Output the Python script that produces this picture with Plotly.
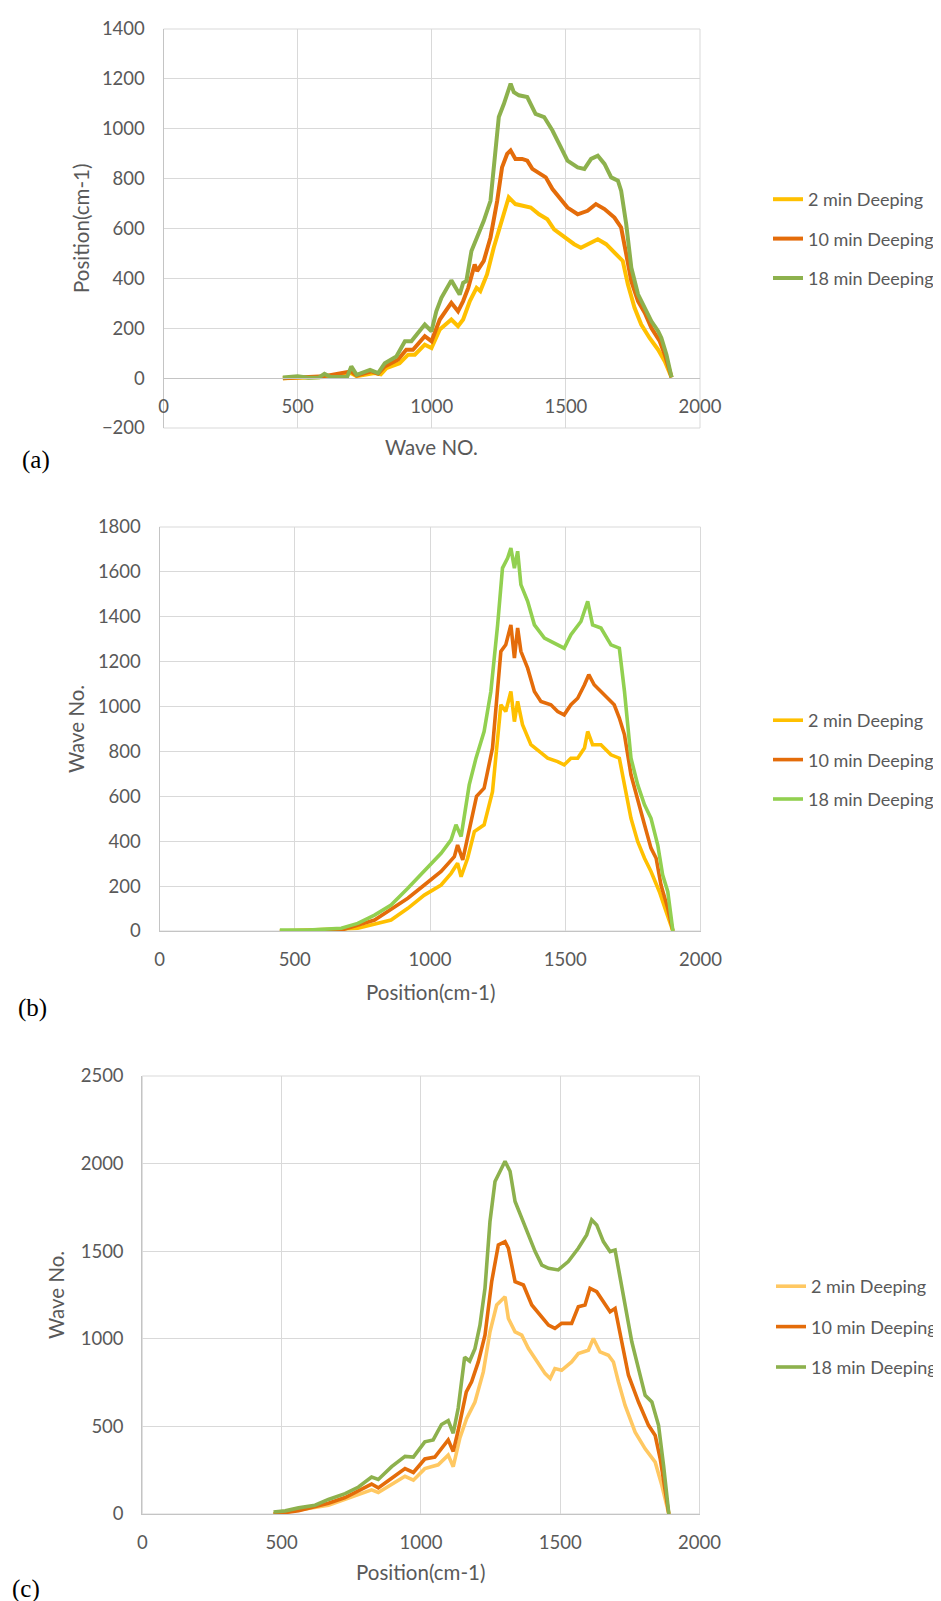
import plotly.graph_objects as go

# ---------------- data ----------------
SERIES = ["2 min Deeping", "10 min Deeping", "18 min Deeping"]

# Panel (a)
A_X_2 = [445, 500, 600, 700, 720, 787, 810, 831, 880, 912, 937, 974, 999, 1030, 1073, 1098, 1117, 1142, 1167, 1181, 1206, 1231, 1256, 1275, 1287, 1312, 1344, 1369, 1400, 1431, 1456, 1494, 1531, 1556, 1594, 1619, 1650, 1681, 1712, 1731, 1756, 1781, 1812, 1844, 1869, 1894]
A_Y_2 = [0, 2, 5, 20, 8, 20, 15, 40, 60, 94, 94, 134, 121, 195, 235, 208, 235, 309, 362, 349, 416, 523, 617, 684, 725, 698, 691, 684, 657, 637, 597, 564, 537, 523, 544, 557, 537, 503, 470, 376, 282, 215, 161, 114, 67, 3]
A_X_10 = [445, 500, 600, 700, 720, 775, 800, 825, 874, 905, 930, 974, 999, 1030, 1073, 1098, 1117, 1136, 1160, 1169, 1194, 1219, 1244, 1262, 1281, 1294, 1312, 1337, 1356, 1375, 1406, 1425, 1450, 1481, 1506, 1544, 1581, 1612, 1644, 1681, 1706, 1725, 1744, 1769, 1794, 1819, 1850, 1869, 1894]
A_Y_10 = [0, 3, 8, 27, 10, 27, 18, 47, 74, 114, 114, 168, 148, 235, 302, 268, 309, 362, 456, 429, 470, 564, 711, 845, 899, 913, 879, 879, 872, 839, 819, 805, 758, 718, 684, 657, 671, 698, 678, 644, 604, 497, 389, 309, 262, 201, 148, 94, 3]
A_X_18 = [445, 500, 540, 580, 600, 620, 665, 685, 700, 720, 770, 800, 825, 868, 900, 924, 974, 999, 1017, 1036, 1073, 1104, 1117, 1129, 1148, 1169, 1194, 1219, 1237, 1250, 1269, 1281, 1294, 1306, 1325, 1356, 1387, 1419, 1450, 1481, 1506, 1544, 1569, 1594, 1619, 1644, 1669, 1694, 1706, 1725, 1744, 1769, 1794, 1819, 1844, 1856, 1875, 1894]
A_Y_18 = [3, 7, 2, 3, 17, 6, 5, 6, 47, 13, 33, 20, 60, 87, 148, 148, 215, 188, 268, 322, 392, 335, 382, 389, 510, 564, 631, 711, 899, 1047, 1100, 1141, 1181, 1147, 1134, 1127, 1060, 1047, 993, 926, 872, 845, 839, 879, 892, 859, 805, 792, 752, 617, 443, 336, 282, 228, 188, 161, 94, 3]

# Panel (b)
B_X_2 = [445, 733, 856, 918, 979, 1041, 1078, 1102, 1115, 1139, 1164, 1200, 1231, 1262, 1280, 1299, 1312, 1324, 1342, 1373, 1404, 1435, 1472, 1496, 1521, 1546, 1571, 1583, 1601, 1632, 1669, 1700, 1719, 1743, 1768, 1793, 1817, 1848, 1873, 1898]
B_Y_2 = [0, 12, 49, 101, 160, 205, 257, 302, 242, 324, 443, 473, 621, 1008, 978, 1067, 933, 1023, 919, 830, 800, 770, 755, 740, 770, 770, 815, 889, 830, 830, 785, 770, 651, 502, 398, 324, 265, 175, 86, 0]
B_X_10 = [445, 672, 795, 918, 979, 1041, 1090, 1102, 1121, 1145, 1172, 1200, 1231, 1262, 1280, 1299, 1312, 1324, 1336, 1361, 1386, 1410, 1447, 1472, 1496, 1521, 1546, 1571, 1587, 1607, 1644, 1681, 1700, 1719, 1743, 1768, 1793, 1817, 1836, 1854, 1879, 1898]
B_Y_10 = [0, 4, 49, 146, 205, 265, 331, 383, 317, 443, 600, 636, 815, 1246, 1275, 1364, 1216, 1350, 1246, 1171, 1067, 1023, 1008, 978, 963, 1008, 1037, 1097, 1142, 1097, 1052, 1008, 949, 874, 696, 577, 473, 369, 324, 205, 101, 0]
B_X_18 = [445, 549, 672, 733, 795, 856, 918, 979, 1041, 1078, 1096, 1115, 1133, 1145, 1170, 1200, 1225, 1250, 1268, 1287, 1299, 1312, 1324, 1336, 1361, 1386, 1423, 1460, 1496, 1521, 1558, 1583, 1601, 1632, 1669, 1700, 1719, 1743, 1768, 1793, 1817, 1842, 1860, 1879, 1898]
B_Y_18 = [4, 4, 12, 34, 71, 116, 190, 265, 346, 406, 473, 421, 547, 651, 770, 889, 1067, 1364, 1617, 1662, 1706, 1617, 1692, 1543, 1469, 1364, 1305, 1283, 1260, 1320, 1379, 1469, 1364, 1350, 1275, 1260, 1067, 770, 651, 562, 502, 383, 250, 175, 0]

# Panel (c)
C_X_2 = [471, 668, 823, 847, 943, 973, 1014, 1062, 1098, 1116, 1140, 1164, 1194, 1224, 1248, 1272, 1302, 1314, 1338, 1362, 1386, 1416, 1446, 1464, 1481, 1505, 1541, 1565, 1601, 1619, 1643, 1673, 1691, 1709, 1733, 1769, 1805, 1841, 1865, 1890]
C_Y_2 = [0, 50, 138, 123, 215, 193, 259, 281, 336, 270, 434, 544, 639, 811, 1040, 1193, 1240, 1116, 1040, 1021, 944, 868, 801, 773, 830, 820, 868, 916, 935, 1002, 925, 906, 868, 754, 620, 467, 372, 296, 162, 0]
C_X_10 = [471, 561, 668, 728, 823, 847, 895, 943, 973, 1014, 1050, 1098, 1116, 1134, 1163, 1182, 1206, 1230, 1254, 1278, 1302, 1314, 1338, 1368, 1398, 1428, 1458, 1481, 1505, 1541, 1565, 1589, 1607, 1631, 1655, 1679, 1697, 1721, 1745, 1781, 1817, 1841, 1859, 1890]
C_Y_10 = [0, 18, 61, 94, 171, 149, 204, 259, 237, 314, 325, 423, 357, 478, 697, 754, 868, 1021, 1326, 1536, 1555, 1517, 1326, 1307, 1193, 1135, 1078, 1059, 1088, 1088, 1183, 1193, 1288, 1269, 1212, 1154, 1173, 983, 792, 639, 506, 448, 315, 0]
C_X_18 = [471, 513, 561, 620, 668, 728, 776, 823, 847, 895, 943, 973, 1014, 1044, 1074, 1098, 1116, 1134, 1157, 1175, 1194, 1212, 1230, 1248, 1266, 1284, 1302, 1320, 1338, 1362, 1386, 1410, 1434, 1458, 1493, 1529, 1565, 1595, 1613, 1631, 1655, 1679, 1697, 1715, 1733, 1757, 1781, 1805, 1829, 1853, 1871, 1890]
C_Y_18 = [11, 18, 35, 50, 83, 116, 154, 211, 197, 270, 329, 325, 412, 423, 511, 533, 461, 605, 895, 873, 944, 1078, 1288, 1670, 1898, 1956, 2013, 1956, 1784, 1689, 1593, 1498, 1421, 1402, 1393, 1441, 1517, 1593, 1679, 1650, 1555, 1498, 1507, 1345, 1173, 983, 830, 677, 639, 506, 277, 0]

X_TICKS = [0, 500, 1000, 1500, 2000]
A_Y_RANGE = [-200, 1400]
B_Y_RANGE = [0, 1800]
C_Y_RANGE = [0, 2500]

# ---------------- styling ----------------
W, H = 941, 1601
GRID = "#D9D9D9"
AXLINE = "#C4C4C4"
TXT = "#595959"
TICKFONT = dict(family="Lato, Carlito, Calibri, sans-serif", size=18.5, color=TXT)
TITLEFONT = dict(family="Lato, Carlito, Calibri, sans-serif", size=20.5, color=TXT)
LEGFONT = dict(family="Lato, Carlito, Calibri, sans-serif", size=18, color=TXT)

COLORS = {
    "a": ["#FFC000", "#E46C0A", "#8DB14D"],
    "b": ["#FFC000", "#E46C0A", "#92D050"],
    "c": ["#FFC862", "#E46C0A", "#8DB14D"],
}
WIDTHS = {"a": 4.0, "b": 3.6, "c": 3.6}


def px_x(p):
    return p / W


def px_y(p):
    return 1 - p / H


# pixel boxes of the three plot areas (left, right, top, bottom)
BOX = {
    "a": (155.5, 692.0, 21.0, 420.0),
    "b": (151.5, 692.5, 519.0, 923.0),
    "c": (134.3, 691.5, 1068.0, 1506.0),
}

fig = go.Figure()

panels = [
    ("a", "x", "y", "legend", [(A_X_2, A_Y_2), (A_X_10, A_Y_10), (A_X_18, A_Y_18)]),
    ("b", "x2", "y2", "legend2", [(B_X_2, B_Y_2), (B_X_10, B_Y_10), (B_X_18, B_Y_18)]),
    ("c", "x3", "y3", "legend3", [(C_X_2, C_Y_2), (C_X_10, C_Y_10), (C_X_18, C_Y_18)]),
]

for key, xa, ya, leg, data in panels:
    for i, (xs, ys) in enumerate(data):
        fig.add_trace(go.Scatter(
            x=xs, y=ys, mode="lines", name=SERIES[i],
            line=dict(color=COLORS[key][i], width=WIDTHS[key]),
            xaxis=xa, yaxis=ya, legend=leg, legendgroup=f"{key}{i}",
            showlegend=True, hoverinfo="skip",
        ))

common_x = dict(range=[0, 2000], tickvals=X_TICKS, showgrid=True, gridcolor=GRID, gridwidth=1,
                zeroline=False, showline=True, linecolor=AXLINE, linewidth=1, ticks="",
                tickfont=TICKFONT, ticklabelstandoff=12, fixedrange=True)
common_y = dict(showgrid=True, gridcolor=GRID, gridwidth=1, zeroline=False, showline=True,
                linecolor=AXLINE, linewidth=1, ticks="", tickfont=TICKFONT,
                ticklabelstandoff=14, fixedrange=True)

layout = dict(width=W, height=H, autosize=False,
              margin=dict(l=0, r=0, t=0, b=0, autoexpand=False),
              paper_bgcolor="white", plot_bgcolor="white", showlegend=True)

# panel (a): x axis crosses at y = 0
la, ra, ta, ba = BOX["a"]
ya_dom = [px_y(ba), px_y(ta)]
pos_a = ya_dom[0] + (0 - A_Y_RANGE[0]) / (A_Y_RANGE[1] - A_Y_RANGE[0]) * (ya_dom[1] - ya_dom[0])
layout["xaxis"] = dict(common_x, domain=[px_x(la), px_x(ra)], anchor="free", position=pos_a)
layout["yaxis"] = dict(common_y, domain=ya_dom, range=A_Y_RANGE, dtick=200, tick0=0, anchor="x")

lb, rb, tb, bb = BOX["b"]
layout["xaxis2"] = dict(common_x, domain=[px_x(lb), px_x(rb)], anchor="y2")
layout["yaxis2"] = dict(common_y, domain=[px_y(bb), px_y(tb)], range=B_Y_RANGE, dtick=200, tick0=0, anchor="x2")

lc, rc, tc, bc = BOX["c"]
layout["xaxis3"] = dict(common_x, domain=[px_x(lc), px_x(rc)], anchor="y3")
layout["yaxis3"] = dict(common_y, domain=[px_y(bc), px_y(tc)], range=C_Y_RANGE, dtick=500, tick0=0, anchor="x3")

legend_style = dict(xanchor="left", yanchor="top", font=LEGFONT, bgcolor="rgba(0,0,0,0)",
                    tracegroupgap=13, itemclick=False, itemdoubleclick=False)
layout["legend"] = dict(legend_style, x=px_x(760), y=px_y(173))
layout["legend2"] = dict(legend_style, x=px_x(760), y=px_y(694))
layout["legend3"] = dict(legend_style, x=px_x(763), y=px_y(1260), tracegroupgap=14)

fig.update_layout(**layout)

# plot-area frames
for xa, ya in [("x", "y"), ("x2", "y2"), ("x3", "y3")]:
    fig.add_shape(type="rect", xref=f"{xa} domain", yref=f"{ya} domain", x0=0, x1=1, y0=0, y1=1,
                  line=dict(color=GRID, width=1), layer="below")

# axis titles and panel labels
ann = [
    dict(text="Position(cm-1)", x=px_x(73), y=px_y(221), textangle=-90, font=TITLEFONT),
    dict(text="Wave NO.", x=px_x((la + ra) / 2), y=px_y(439), font=TITLEFONT),
    dict(text="Wave No.", x=px_x(68), y=px_y((tb + bb) / 2), textangle=-90, font=TITLEFONT),
    dict(text="Position(cm-1)", x=px_x((lb + rb) / 2), y=px_y(984), font=TITLEFONT),
    dict(text="Wave No.", x=px_x(48), y=px_y((tc + bc) / 2), textangle=-90, font=TITLEFONT),
    dict(text="Position(cm-1)", x=px_x((lc + rc) / 2), y=px_y(1564), font=TITLEFONT),
]
lab_font = dict(family="Liberation Serif, Times New Roman, serif", size=25, color="black")
ann += [
    dict(text="(a)", x=px_x(28), y=px_y(452), font=lab_font),
    dict(text="(b)", x=px_x(24), y=px_y(1000), font=lab_font),
    dict(text="(c)", x=px_x(18), y=px_y(1581), font=lab_font),
]
for a in ann:
    fig.add_annotation(xref="paper", yref="paper", showarrow=False, xanchor="center", yanchor="middle", **a)

fig.write_html("out.html")
